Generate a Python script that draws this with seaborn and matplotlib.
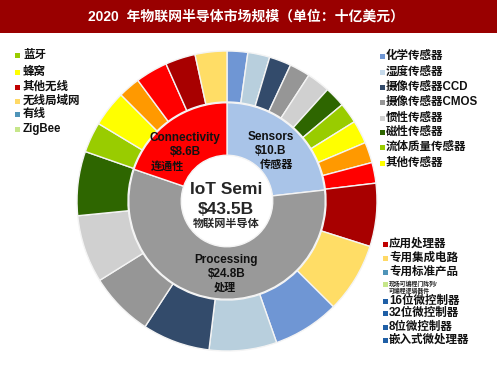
import matplotlib
matplotlib.use("Agg")
import matplotlib.pyplot as plt
from matplotlib.patches import Rectangle
import seaborn as sns

sns.set_theme(style="white")
plt.rcParams['font.family'] = ['Liberation Sans', 'Noto Sans CJK SC', 'DejaVu Sans']

# ---------------- data ----------------
title = "2020  年物联网半导体市场规模（单位：十亿美元）"

segments = ["Sensors", "Processing", "Connectivity"]
segment_values = [10.1, 24.8, 8.6]
segment_value_labels = ["$10.B", "$24.8B", "$8.6B"]
segment_cn = ["传感器", "处理", "连通性"]
segment_colors = ["#a9c4e8", "#999999", "#ff0000"]

total_name = "IoT Semi"
total_label = "$43.5B"
total_cn = "物联网半导体"

# outer ring sub-segments (estimated, $B)
sensor_parts = [0.97, 1.03, 1.03, 0.97, 1.09, 0.97, 0.97, 1.09, 0.97, 0.97]
processing_parts = [2.96, 3.29, 3.13, 3.17, 3.17, 3.02, 3.18, 3.01]
connectivity_parts = [1.43, 1.69, 1.03, 1.51, 1.41, 1.49]

ring_cycle = ["#6f96d4", "#b8cfdd", "#334b6b", "#969696", "#d0d0d0", "#2e6600",
              "#99cc00", "#ffff00", "#ff9900", "#ff0000", "#a80000", "#ffdd66"]

conn_legend = ["蓝牙", "蜂窝", "其他无线", "无线局域网", "有线", "ZigBee"]
conn_legend_colors = ["#99cc00", "#ffff00", "#c00000", "#ffd966", "#4f94b8", "#c6e68a"]

sensor_legend = ["化学传感器", "湿度传感器", "摄像传感器CCD", "摄像传感器CMOS",
                 "惯性传感器", "磁性传感器", "流体质量传感器", "其他传感器"]
sensor_legend_colors = ["#6f96d4", "#c5d9ea", "#334b6b", "#969696",
                        "#d0d0d0", "#2e6600", "#99cc00", "#ffff00"]

proc_legend = ["应用处理器", "专用集成电路", "专用标准产品", "现场可编程门阵列/\n可编程逻辑器件",
               "16位微控制器", "32位微控制器", "8位微控制器", "嵌入式微处理器"]
proc_legend_colors = ["#c00000", "#ffd966", "#4f94b8", "#c6e68a",
                      "#1f5fa6", "#1f5fa6", "#1f5fa6", "#1f5fa6"]

# ---------------- figure ----------------
W, H = 500, 375
fig = plt.figure(figsize=(5, 3.75), dpi=100)
fig.patch.set_facecolor("white")

# title banner
fig.add_artist(Rectangle((0, 1 - 33 / H), 497 / W, 33 / H, transform=fig.transFigure,
                         facecolor="#990000", edgecolor="none"))
fig.text(246 / W, 1 - 17 / H, title, color="white", fontsize=10, fontweight="bold",
         ha="center", va="center")

# pie axes: centre (227,201) px, radius 150 px
ax = fig.add_axes([77 / W, (H - 351) / H, 300 / W, 300 / H])
outer_values = sensor_parts + processing_parts + connectivity_parts
outer_colors = (ring_cycle * 2)[:len(outer_values)]
ax.pie(outer_values, radius=1.0, colors=outer_colors, startangle=90, counterclock=False,
       wedgeprops=dict(width=0.34, edgecolor="#f4f4f4", linewidth=1.0))
ax.pie(segment_values, radius=0.655, colors=segment_colors, startangle=90, counterclock=False,
       wedgeprops=dict(width=0.35, edgecolor="#f4f4f4", linewidth=1.0))
ax.set_xlim(-1, 1)
ax.set_ylim(-1, 1)
ax.set_aspect("equal")
ax.axis("off")


def px(x, y):
    return (x - 227) / 150, (201 - y) / 150


# centre text
ax.text(*px(226, 190), total_name, fontsize=12.5, fontweight="bold", ha="center", va="center")
ax.text(*px(226, 210), total_label, fontsize=12.5, fontweight="bold", ha="center", va="center")
ax.text(*px(226, 224), total_cn, fontsize=8, fontweight="bold", ha="center", va="center")

# segment labels
seg_pos = {"Sensors": [(271, 137), (271, 151), (277, 165)],
           "Processing": [(226, 260), (227, 274), (225, 288)],
           "Connectivity": [(185, 138), (185, 152), (168, 166)]}
for name, val, cn in zip(segments, segment_value_labels, segment_cn):
    p = seg_pos[name]
    ax.text(*px(*p[0]), name, fontsize=8.5, fontweight="bold", ha="center", va="center", color="#111111")
    ax.text(*px(*p[1]), val, fontsize=8.5, fontweight="bold", ha="center", va="center", color="#111111")
    ax.text(*px(*p[2]), cn, fontsize=8, fontweight="bold", ha="center", va="center", color="#111111")


def legend_block(labels, colors, x_marker, x_text, ys, small=None):
    for i, (lab, col, y) in enumerate(zip(labels, colors, ys)):
        fig.add_artist(Rectangle((x_marker / W, 1 - (y + 3) / H), 5 / W, 5 / H,
                                 transform=fig.transFigure, facecolor=col, edgecolor="none"))
        if small is not None and i == small:
            fig.text(x_text / W, 1 - (y + 3) / H, lab, fontsize=4.2, fontweight="bold",
                     ha="left", va="center", color="#222222", linespacing=1.05)
        else:
            fig.text(x_text / W, 1 - y / H, lab, fontsize=8.3, fontweight="bold",
                     ha="left", va="center", color="#111111")


legend_block(conn_legend, conn_legend_colors, 15, 23, [55, 72, 87, 101, 114, 129])
legend_block(sensor_legend, sensor_legend_colors, 380, 386, [56, 72, 87, 102, 118, 132, 147, 163])
legend_block(proc_legend, proc_legend_colors, 383, 389, [244, 258, 272, 284, 301, 313, 327, 340], small=3)

fig.savefig("out.png", dpi=100, facecolor="white")
